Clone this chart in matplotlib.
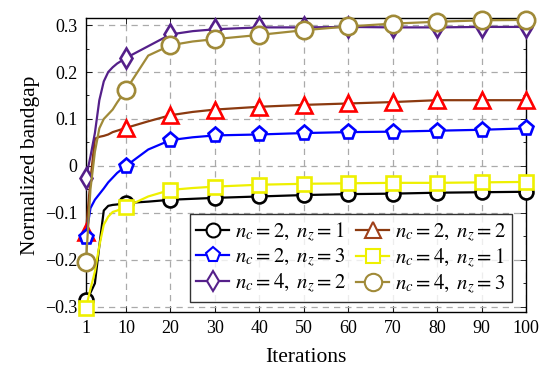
import numpy as np
import matplotlib
matplotlib.use("Agg")
import matplotlib.pyplot as plt
from matplotlib.lines import Line2D
from matplotlib.ticker import MultipleLocator

plt.rcParams['font.family'] = ['Liberation Serif', 'DejaVu Serif']
plt.rcParams['mathtext.fontset'] = 'stix'
plt.rcParams['axes.unicode_minus'] = True

# iteration grid the curves were read at
iters = [1, 2, 3, 4, 5, 6, 7, 8, 10, 15, 20, 25, 30, 40, 50, 60, 70, 80, 90, 100]
mark_iters = [1, 10, 20, 30, 40, 50, 60, 70, 80, 90, 100]

nc2_nz1 = [-0.285, -0.270, -0.250, -0.170, -0.095, -0.085, -0.083, -0.082, -0.079, -0.076,
           -0.072, -0.070, -0.068, -0.065, -0.062, -0.060, -0.059, -0.057, -0.056, -0.055]
nc2_nz2 = [-0.140, -0.030, 0.058, 0.062, 0.064, 0.067, 0.072, 0.075, 0.081, 0.095,
           0.108, 0.115, 0.120, 0.126, 0.130, 0.133, 0.136, 0.140, 0.140, 0.140]
nc2_nz3 = [-0.151, -0.090, -0.072, -0.060, -0.048, -0.035, -0.025, -0.015, 0.000, 0.035,
           0.055, 0.061, 0.065, 0.067, 0.070, 0.072, 0.073, 0.075, 0.077, 0.080]
nc4_nz1 = [-0.302, -0.262, -0.225, -0.170, -0.125, -0.108, -0.098, -0.095, -0.087, -0.065,
           -0.051, -0.047, -0.044, -0.040, -0.038, -0.037, -0.036, -0.036, -0.035, -0.034]
nc4_nz2 = [-0.025, 0.020, 0.070, 0.140, 0.180, 0.200, 0.210, 0.218, 0.230, 0.255,
           0.280, 0.287, 0.291, 0.295, 0.295, 0.296, 0.295, 0.295, 0.296, 0.296]
nc4_nz3 = [-0.204, -0.050, 0.030, 0.080, 0.100, 0.110, 0.120, 0.135, 0.162, 0.235,
           0.257, 0.265, 0.270, 0.279, 0.289, 0.297, 0.303, 0.307, 0.310, 0.311]

labels = [r'$n_c = 2,\ n_z = 1$', r'$n_c = 2,\ n_z = 2$', r'$n_c = 2,\ n_z = 3$',
          r'$n_c = 4,\ n_z = 1$', r'$n_c = 4,\ n_z = 2$', r'$n_c = 4,\ n_z = 3$']

# (line colour, marker edge, marker, marker size)
styles = [
    ('black', 'black', 'o', 10),
    ('#8B3A10', 'red', '^', 11),
    ('blue', 'blue', 'p', 11),
    ('#EEF000', '#EEF000', 's', 10),
    ('#55208A', '#55208A', 'd', 10.5),
    ('#A08A38', '#A08A38', 'o', 12.5),
]
legend_edges = ['black', '#A0401A', 'blue', '#EEF000', '#55208A', '#A08A38']

series = [nc2_nz1, nc2_nz2, nc2_nz3, nc4_nz1, nc4_nz2, nc4_nz3]

fig = plt.figure(figsize=(5.5, 3.76), dpi=100)
ax = fig.add_axes([86/550, 1-312/376, 440/550, 294/376])

x = np.array(iters)
mev = list(np.where(np.isin(x, mark_iters))[0])
for ys, (lc, mc, m, ms) in zip(series, styles):
    ax.plot(x, ys, color=lc, lw=1.6, marker=m, markevery=mev, ms=ms,
            mfc='white', mec=mc, mew=1.9, zorder=3, clip_on=False)

ax.set_xlim(1, 100)
ax.set_ylim(-0.311, 0.315)
ax.set_xticks(mark_iters)
ax.set_yticks([-0.3, -0.2, -0.1, 0, 0.1, 0.2, 0.3])
ax.set_yticklabels(['\u22120.3', '\u22120.2', '\u22120.1', '0', '0.1', '0.2', '0.3'])
ax.yaxis.set_minor_locator(MultipleLocator(0.05))
ax.tick_params(which='both', direction='in', top=True, right=True, labelsize=13, pad=6)
ax.tick_params(which='major', length=4, width=0.6)
ax.tick_params(which='minor', length=2.5, width=0.6)
ax.grid(True, which='major', color='#aaaaaa', ls=(0, (5, 4)), lw=0.9, zorder=0)
for s in ax.spines.values():
    s.set_linewidth(1.0)

ax.set_xlabel('Iterations', fontsize=15.5, labelpad=8)
ax.set_ylabel('Normalized bandgap', fontsize=15.5, labelpad=4)

handles = []
for (lc, mc, m, ms), ec in zip(styles, legend_edges):
    handles.append(Line2D([], [], color=lc, lw=1.6, marker=m, ms=ms,
                          mfc='white', mec=ec, mew=1.5))
order = [0, 2, 4, 1, 3, 5]
leg = ax.legend([handles[i] for i in order], [labels[i] for i in order], ncol=2,
                loc='lower right', bbox_to_anchor=(0.968, 0.034), borderaxespad=0,
                fontsize=15, frameon=True, fancybox=False, edgecolor='black',
                handlelength=1.6, handletextpad=0.25, columnspacing=0.5,
                labelspacing=0.12, borderpad=0.3)
leg.get_frame().set_linewidth(1.0)
leg.set_zorder(5)

fig.savefig('out.png', dpi=100)
